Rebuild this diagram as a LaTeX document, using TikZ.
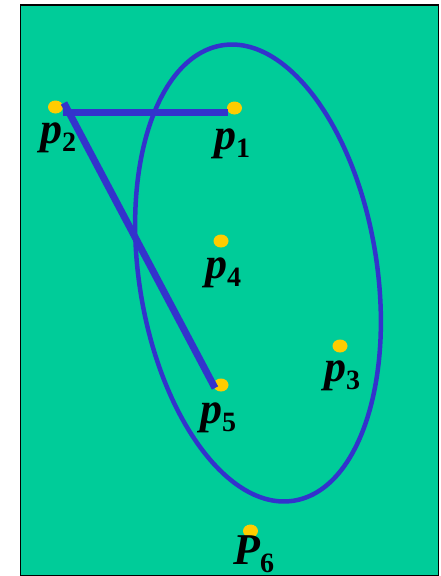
\documentclass[tikz,border=0pt]{standalone}
\usepackage{fontspec}
\usetikzlibrary{shapes.geometric}
\setmainfont{Liberation Serif}
\definecolor{bg}{RGB}{0,204,153}
\definecolor{bl}{RGB}{51,51,204}
\definecolor{yl}{RGB}{255,204,0}
\newcommand\plab[2]{{\fontsize{44}{44}\selectfont\bfseries\itshape #1}\raisebox{-8pt}{\fontsize{28}{28}\selectfont\bfseries #2}}
\begin{document}
\begin{tikzpicture}[x=1pt,y=-1pt,
  dotm/.style={fill=yl,draw=none,ellipse,minimum width=15pt,minimum height=13pt,inner sep=0},
  labm/.style={anchor=base west,inner sep=0,text=black},
  seg/.style={draw=bl,line width=7pt}]
\useasboundingbox (0,0) rectangle (441,576);
\filldraw[fill=bg,draw=black,line width=1.2pt] (20.5,5) rectangle (438.5,575.5);
\draw[draw=bl,line width=4.5pt] (258,273) ellipse [x radius=119, y radius=230.5, rotate=8.9];
\node[dotm] (d1) at (234.5,108) {};
\node[dotm] (d2) at (55.5,107) {};
\node[dotm] (d3) at (340,346) {};
\node[dotm] (d4) at (221,241) {};
\node[dotm] (d5) at (221,385) {};
\node[dotm] (d6) at (250.5,531) {};
\coordinate (h1) at (63,112.5);
\coordinate (h2) at (228,112.5);
\coordinate (g1) at (64,103);
\coordinate (g2) at (215,388);
\draw[seg] (h1) -- (h2);
\draw[seg] (g1) -- (g2);
\node[labm] (l1) at (214,149.5) {\plab{p}{1}};
\node[labm] (l2) at (40,143.5) {\plab{p}{2}};
\node[labm] (l4) at (205,278.5) {\plab{p}{4}};
\node[labm] (l3) at (324,381.5) {\plab{p}{3}};
\node[labm] (l5) at (200,423.5) {\plab{p}{5}};
\node[labm] (l6) at (233,564) {\plab{P}{6}};
\end{tikzpicture}
\end{document}
